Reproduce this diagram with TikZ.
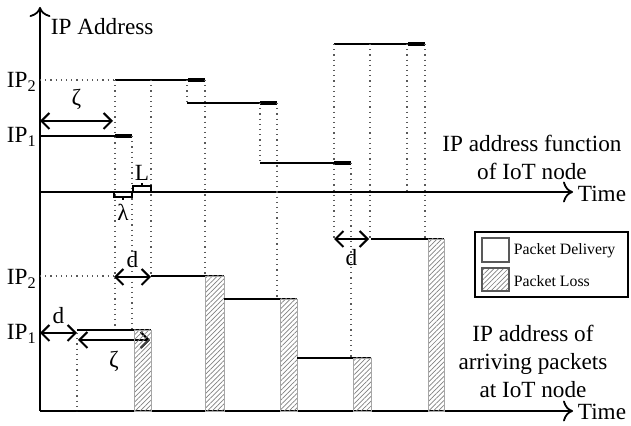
\documentclass[tikz,border=0pt]{standalone}
\usepackage{fontspec}
\setmainfont{Liberation Serif}
\usetikzlibrary{arrows.meta,patterns.meta}
\begin{document}
\begin{tikzpicture}[x=0.5pt, y=-0.5pt, line width=0.9pt,
        >={Straight Barb[length=4pt,line width=1pt]},
        dots/.style={dotted, line width=0.6pt, gray!70!black},
        lost/.style={line width=2.4pt},
        hatch/.style={pattern={Lines[angle=45,distance=1.7pt,line width=0.35pt]}, pattern color=gray, draw=gray!70, line width=0.4pt},
        txt/.style={font=\fontsize{11.6}{14}\selectfont, inner sep=0pt},
        small/.style={font=\fontsize{7.9}{9}\selectfont, inner sep=0pt}]
            \useasboundingbox (0,0) rectangle (631,426);
            % axes
            \draw[->, >={To[length=5pt]}] (40,411) -- (40,7);
            \draw[->, >={To[length=5pt]}] (40,192) -- (573,192);
            \draw[->, >={To[length=5pt]}] (40,411) -- (573,411);
            \node[txt, anchor=base west] (ylab) at (50,35) {IP Address};
            \node[txt, anchor=base west] (t1) at (577,202) {Time};
            \node[txt, anchor=base west] (t2) at (577,420) {Time};
            \node[txt, anchor=base west] (ip2a) at (6,88) {IP\textsubscript{2}};
            \node[txt, anchor=base west] (ip1a) at (6,143) {IP\textsubscript{1}};
            \node[txt, anchor=base west] (ip2b) at (6,285) {IP\textsubscript{2}};
            \node[txt, anchor=base west] (ip1b) at (6,340) {IP\textsubscript{1}};
            % IP address function
            \draw[dots] (40,80) -- (115,80);
            \draw (40,136) -- (132,136);
            \draw (115,80) -- (205,80);
            \draw (187,103) -- (277,103);
            \draw (260,163) -- (351,163);
            \draw (334,44) -- (425,44);
            \draw[lost] (115,136) -- (132,136);
            \draw[lost] (188,80) -- (205,80);
            \draw[lost] (260,103) -- (277,103);
            \draw[lost] (334,163) -- (351,163);
            \draw[lost] (408,44) -- (425,44);
            \draw[dots] (115,80) -- (115,330);
            \draw[dots] (132,136) -- (132,330);
            \draw[dots] (151,80) -- (151,276);
            \draw[dots] (187,80) -- (187,103);
            \draw[dots] (205,80) -- (205,276);
            \draw[dots] (260,103) -- (260,163);
            \draw[dots] (277,103) -- (277,299);
            \draw[dots] (334,44) -- (334,239);
            \draw[dots] (351,163) -- (351,358);
            \draw[dots] (370,44) -- (370,239);
            \draw[dots] (407,44) -- (407,192);
            \draw[dots] (425,44) -- (425,239);
            \draw[<->] (40,121) -- (113,121) node[txt, midway, above=5pt] (z1) {ζ};
            \draw[line width=0.6pt] (133,192) -- (133,186) -- (151,186) -- (151,192) (142,186) -- (142,183);
            \node[txt] (L) at (142,173) {L};
            \draw[line width=0.6pt] (114,192) -- (114,197) -- (132,197) -- (132,192) (123,197) -- (123,200);
            \node[txt] (lam) at (123,212) {λ};
            \node[txt, align=center] (f1) at (532,157) {IP address function\\of IoT node};
            % arriving packets
            \draw[dots] (40,276) -- (114,276);
            \draw[<->] (114,277) -- (151,277) node[txt, midway, above=4pt] (d1) {d};
            \draw[<->] (40,333) -- (77,333) node[txt, midway, above=4pt] (d0) {d};
            \draw[dots] (77,333) -- (77,411);
            \draw (77,330) -- (151,330);
            \draw[<->] (78,340) -- (150,340) node[txt, midway, below=5pt] (z2) {ζ};
            \draw[hatch] (134,330) rectangle (151,411);
            \draw (151,276) -- (224,276);
            \draw[hatch] (205,276) rectangle (224,411);
            \draw (224,299) -- (297,299);
            \draw[hatch] (280,299) rectangle (297,411);
            \draw (297,358) -- (371,358);
            \draw[hatch] (353,358) rectangle (371,411);
            \draw[<->] (334,239) -- (369,239) node[txt, midway, below=5pt] (d2) {d};
            \draw (371,239) -- (444,239);
            \draw[hatch] (428,239) rectangle (444,411);
            \node[txt, align=center] (f2) at (533,361) {IP address of\\arriving packets\\at IoT node};
            % legend
            \draw[line width=0.6pt] (475,232) rectangle (628,297);
            \draw[line width=0.6pt, gray!70!black] (482,238) rectangle (509,262);
            \draw[hatch, draw=gray!70!black, line width=0.6pt] (482,268) rectangle (509,291);
            \node[small, anchor=west] (pd) at (513,251) {Packet Delivery};
            \node[small, anchor=west] (pl) at (513,281) {Packet Loss};
        \end{tikzpicture}
\end{document}
